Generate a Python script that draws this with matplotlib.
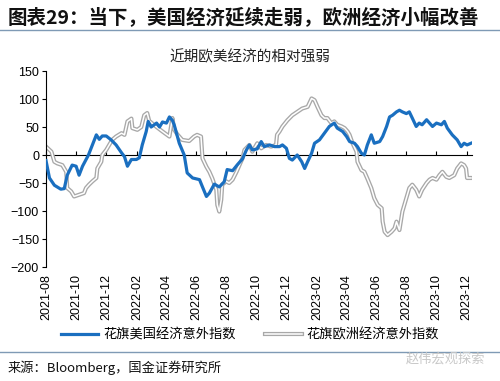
import matplotlib
matplotlib.use("Agg")
import matplotlib.pyplot as plt
import matplotlib.dates as mdates
import matplotlib.patheffects as pe
import pandas as pd
import numpy as np

plt.rcParams['font.family'] = ['Noto Sans CJK SC', 'DejaVu Sans']

us_dates = ["2021-08-01","2021-08-08","2021-08-18","2021-08-31","2021-09-07","2021-09-13","2021-09-23",
            "2021-10-01","2021-10-07","2021-10-14","2021-10-26","2021-11-03","2021-11-11","2021-11-17",
            "2021-11-23","2021-12-01","2021-12-11","2021-12-21","2022-01-01","2022-01-07","2022-01-13",
            "2022-01-21","2022-01-31","2022-02-06","2022-02-12","2022-02-20","2022-02-24","2022-03-02",
            "2022-03-13","2022-03-19","2022-03-25","2022-04-02","2022-04-08","2022-04-14","2022-04-18",
            "2022-04-28","2022-05-08","2022-05-14","2022-05-25","2022-06-08","2022-06-14","2022-06-22",
            "2022-06-28","2022-07-08","2022-07-18","2022-07-28","2022-08-03","2022-08-14","2022-08-24",
            "2022-09-03","2022-09-11","2022-09-17","2022-09-23","2022-10-03","2022-10-11","2022-10-17",
            "2022-10-28","2022-11-07","2022-11-17","2022-11-23","2022-12-01","2022-12-07","2022-12-13",
            "2022-12-23","2023-01-01","2023-01-07","2023-01-13","2023-01-21","2023-01-27","2023-02-06",
            "2023-02-16","2023-02-26","2023-03-08","2023-03-14","2023-03-25","2023-04-02","2023-04-08",
            "2023-04-18","2023-04-24","2023-05-02","2023-05-08","2023-05-14","2023-05-22","2023-05-28",
            "2023-06-08","2023-06-14","2023-06-22","2023-06-28","2023-07-04","2023-07-12","2023-07-18",
            "2023-07-24","2023-08-01","2023-08-07","2023-08-13","2023-08-21","2023-08-27","2023-09-02",
            "2023-09-11","2023-09-17","2023-09-23","2023-10-01","2023-10-11","2023-10-17","2023-10-23",
            "2023-11-02","2023-11-12","2023-11-20","2023-11-26","2023-12-02","2023-12-10"]
us_values = [-10,-41,-54,-61,-60,-36,-18,
             -20,-36,-20,0,18,36,28,
             34,34,27,18,4,-3,-20,
             -8,-8,-5,18,42,60,50,
             57,50,59,57,68,62,53,
             21,0,-32,-41,-44,-57,-74,
             -68,-52,-57,-48,-26,-28,-17,
             -7,9,18,9,11,24,15,
             18,15,15,18,12,-6,-9,
             0,-12,-24,-12,3,21,27,
             39,51,57,48,42,33,24,
             21,15,3,0,18,36,21,
             24,33,51,68,71,77,80,
             77,74,77,66,51,57,54,
             63,57,51,57,54,60,48,
             36,27,15,21,18,21]

eu_dates = ["2021-08-01","2021-08-12","2021-08-18","2021-08-24","2021-09-03","2021-09-11","2021-09-13",
            "2021-09-21","2021-09-27","2021-10-07","2021-10-17","2021-10-21","2021-10-27","2021-11-03",
            "2021-11-11","2021-11-13","2021-11-21","2021-11-23","2021-12-01","2021-12-07","2021-12-13",
            "2021-12-21","2022-01-01","2022-01-07","2022-01-13","2022-01-21","2022-01-23","2022-02-02",
            "2022-02-10","2022-02-16","2022-02-22","2022-02-26","2022-03-13","2022-03-25","2022-04-08",
            "2022-04-14","2022-04-18","2022-04-24","2022-05-04","2022-05-18","2022-05-28","2022-06-03",
            "2022-06-11","2022-06-14","2022-06-22","2022-06-28","2022-07-04","2022-07-12","2022-07-14",
            "2022-07-18","2022-07-22","2022-07-24","2022-08-01","2022-08-07","2022-08-14","2022-08-22",
            "2022-08-28","2022-09-03","2022-09-07","2022-09-17","2022-09-23","2022-10-03","2022-10-11",
            "2022-10-21","2022-10-31","2022-11-10","2022-11-12","2022-11-17","2022-11-23","2022-12-03",
            "2022-12-13","2022-12-23","2023-01-02","2023-01-13","2023-01-21","2023-01-27","2023-02-02",
            "2023-02-10","2023-02-16","2023-02-22","2023-03-02","2023-03-08","2023-03-14","2023-03-23",
            "2023-03-29","2023-04-04","2023-04-08","2023-04-14","2023-04-22","2023-04-24","2023-05-02",
            "2023-05-08","2023-05-14","2023-05-22","2023-05-28","2023-06-04","2023-06-12","2023-06-14",
            "2023-06-18","2023-06-24","2023-07-02","2023-07-08","2023-07-12","2023-07-18","2023-07-24",
            "2023-08-01","2023-08-07","2023-08-13","2023-08-21","2023-08-27","2023-09-02","2023-09-11",
            "2023-09-17","2023-09-23","2023-10-01","2023-10-07","2023-10-13","2023-10-21","2023-10-27",
            "2023-11-06","2023-11-12","2023-11-20","2023-11-26","2023-11-30","2023-12-02","2023-12-10"]
eu_values = [15,6,-12,-15,-18,-30,-59,
             -65,-74,-71,-68,-59,-53,-47,
             -41,-24,-12,0,9,18,27,
             33,39,36,60,65,48,45,
             50,71,75,61,50,42,33,
             66,45,37,27,25,33,36,
             33,-6,-21,-30,-42,-62,-89,
             -101,-80,-53,-47,-50,-44,-30,
             -18,-6,9,18,6,21,12,
             18,15,18,36,42,51,62,
             71,77,83,86,101,98,86,
             71,66,66,57,60,54,51,
             48,42,36,21,6,-12,-27,
             -30,-42,-59,-77,-89,-95,-119,
             -137,-143,-137,-131,-119,-134,-101,
             -77,-59,-53,-62,-74,-62,-50,
             -44,-41,-44,-36,-30,-39,-41,
             -36,-24,-15,-18,-24,-41,-41]

us_label = "花旗美国经济意外指数"
eu_label = "花旗欧洲经济意外指数"
title_text = "图表29：当下，美国经济延续走弱，欧洲经济小幅改善"
chart_title = "近期欧美经济的相对强弱"
source_text = "来源：Bloomberg，国金证券研究所"
watermark = "赵伟宏观探索"
y_ticks = [-200, -150, -100, -50, 0, 50, 100, 150]

us_x = pd.to_datetime(us_dates)
eu_x = pd.to_datetime(eu_dates)

fig = plt.figure(figsize=(5.0, 3.81), dpi=100)
ax = fig.add_axes([0.092, 0.2992, 0.852, 0.5144])

blue = '#1a6fc0'
eu_line, = ax.plot(eu_x, eu_values, color='white', lw=1.1, zorder=2, label=eu_label,
                   path_effects=[pe.Stroke(linewidth=3.0, foreground='#a8a8a8'), pe.Normal()])
us_line, = ax.plot(us_x, us_values, color=blue, lw=2.3, zorder=3, label=us_label)

ymin, ymax = -200, 150
ax.set_ylim(ymin, ymax)
ax.set_yticks(y_ticks)
xmin, xmax = pd.Timestamp("2021-08-01"), pd.Timestamp("2023-12-12")
ax.set_xlim(xmin, xmax)

for s in ['top', 'right', 'bottom']:
    ax.spines[s].set_visible(False)
ax.spines['left'].set_color('black')
ax.spines['left'].set_linewidth(0.8)
ax.tick_params(axis='y', direction='out', length=3, width=0.8, labelsize=9, pad=2, colors='black')
for t in ax.get_yticklabels():
    t.set_family(['Liberation Sans', 'DejaVu Sans'])

ticks = pd.date_range("2021-08-01", "2023-12-01", freq="2MS")
ax.set_xticks(ticks)
ax.xaxis.set_major_formatter(mdates.DateFormatter('%Y-%m'))
ax.tick_params(axis='x', length=0, labelsize=9, pad=5, labelrotation=90)
for t in ax.get_xticklabels():
    t.set_family(['Liberation Sans', 'DejaVu Sans'])

# zero axis with tick marks
zero_frac = (0 - ymin) / (ymax - ymin)
sec = ax.secondary_xaxis(zero_frac)
sec.set_xticks(ticks)
sec.set_xticklabels([])
sec.tick_params(axis='x', direction='out', length=3, width=0.8, colors='black')
sec.spines['bottom'].set_color('black')
sec.spines['bottom'].set_linewidth(1.0)

ax.set_facecolor('none')

leg = fig.legend(handles=[us_line, eu_line], labels=[us_label, eu_label],
                 loc='center', bbox_to_anchor=(0.5, 0.12), ncol=2, frameon=False,
                 fontsize=9.5, handlelength=2.85, columnspacing=2.2, handletextpad=0.35)

fig.text(0.016, 0.956, title_text, fontsize=14, fontweight='bold', ha='left', va='center', color='#111111')
fig.add_artist(plt.Line2D([0, 1], [0.921, 0.921], color='#7f9ab5', lw=1.0, transform=fig.transFigure))
fig.text(0.5, 0.85, chart_title, fontsize=10.5, ha='center', va='center', color='#222222')
fig.add_artist(plt.Line2D([0, 1], [0.076, 0.076], color='#7f9ab5', lw=1.0, transform=fig.transFigure))
fig.text(0.016, 0.034, source_text, fontsize=9.5, ha='left', va='center', color='#111111')
fig.text(0.97, 0.058, watermark, fontsize=9.5, ha='right', va='center', color='#c8c8c8')

fig.savefig("out.png", dpi=100)
